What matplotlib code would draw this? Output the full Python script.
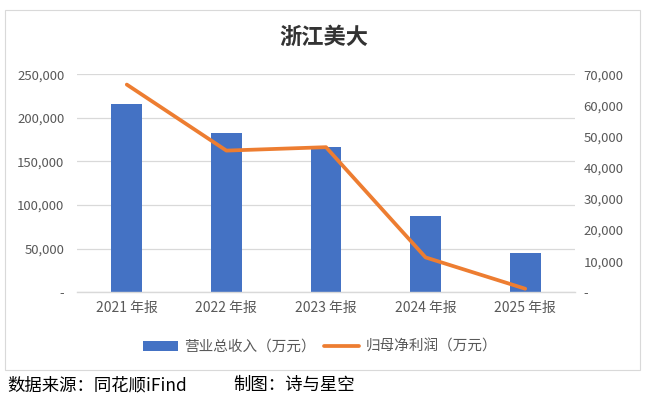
import matplotlib
matplotlib.use("Agg")
import matplotlib.pyplot as plt
from matplotlib.patches import Rectangle
from matplotlib.ticker import FuncFormatter, MultipleLocator
import numpy as np

plt.rcParams['font.family'] = ['Noto Sans CJK SC', 'DejaVu Sans']

# data
years = ['2021 年报', '2022 年报', '2023 年报', '2024 年报', '2025 年报']
revenue = [216300, 182700, 166600, 87800, 45400]      # 营业总收入（万元）
net_profit = [66700, 45500, 46600, 11200, 1150]       # 归母净利润（万元）

BAR_COLOR = '#4472C4'
LINE_COLOR = '#ED7D31'
TEXT_COLOR = '#595959'
GRID_COLOR = '#D9D9D9'


def acct_fmt(v, pos):
    if abs(v) < 1e-9:
        return '-'
    return '{:,.0f}'.format(v)


fig = plt.figure(figsize=(6.46, 4.01), dpi=100)
ax = fig.add_axes([77/646, 1-292.3/401, (575-77)/646, (292.3-74.3)/401])
ax2 = ax.twinx()

x = np.arange(len(years))
bars = ax.bar(x, revenue, width=0.31, color=BAR_COLOR, zorder=2,
              label='营业总收入（万元）')
line, = ax2.plot(x, net_profit, color=LINE_COLOR, lw=2.7,
                 solid_capstyle='round', solid_joinstyle='round',
                 label='归母净利润（万元）')

ax.set_xlim(-0.5, len(years) - 0.5)
ax.set_ylim(0, 250000)
ax2.set_ylim(0, 70000)
ax.yaxis.set_major_locator(MultipleLocator(50000))
ax2.yaxis.set_major_locator(MultipleLocator(10000))
ax.yaxis.set_major_formatter(FuncFormatter(acct_fmt))
ax2.yaxis.set_major_formatter(FuncFormatter(acct_fmt))

ax.set_xticks(x)
ax.set_xticklabels(years)
ax.grid(axis='y', color=GRID_COLOR, lw=0.9, zorder=0)
ax.set_axisbelow(True)

for a in (ax, ax2):
    for s in ('top', 'left', 'right', 'bottom'):
        a.spines[s].set_visible(False)
ax.spines['bottom'].set_visible(True)
ax.spines['bottom'].set_color(GRID_COLOR)
ax.spines['bottom'].set_linewidth(1.0)

ax.tick_params(axis='x', length=0, pad=6, labelsize=10, labelcolor=TEXT_COLOR)
ax.tick_params(axis='y', length=0, pad=9, labelsize=9.5, labelcolor=TEXT_COLOR)
ax2.tick_params(axis='y', length=0, pad=6, labelsize=9.5, labelcolor=TEXT_COLOR)

fig.text(324/646, 1-37/401, '浙江美大', ha='center', va='center',
         fontsize=16, fontweight='bold', color='#333333')

fig.legend([bars, line], [bars.get_label(), line.get_label()],
           loc='center', bbox_to_anchor=(320/646, 1-347/401), ncol=2,
           frameon=False, fontsize=10.5, labelcolor=TEXT_COLOR,
           handlelength=2.4, handleheight=0.7, handletextpad=0.4,
           columnspacing=0.6)

# chart frame
fig.patches.append(Rectangle((5/646, 1-370/401), 635/646, 360/401,
                             transform=fig.transFigure, fill=False,
                             edgecolor=GRID_COLOR, lw=0.8))

fig.text(7/646, 1-385/401, '数据来源：同花顺iFind', ha='left', va='center',
         fontsize=12.5, color='black')
fig.text(233/646, 1-385/401, '制图：诗与星空', ha='left', va='center',
         fontsize=12.5, color='black')

fig.savefig('out.png', dpi=100)
